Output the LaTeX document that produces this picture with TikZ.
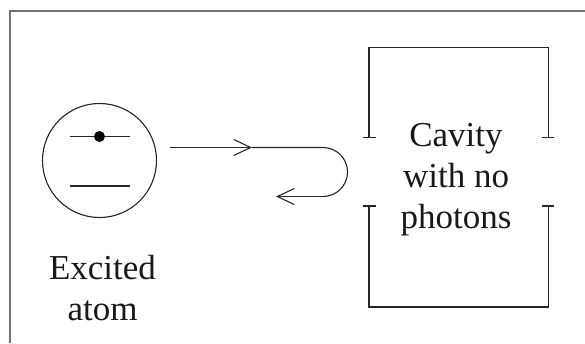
\documentclass[tikz,border=0pt]{standalone}
\usepackage{fontspec}
\setmainfont{Liberation Serif}
\usetikzlibrary{arrows.meta}
\begin{document}
\begin{tikzpicture}[x=1pt,y=-1pt,
  ln/.style={line width=1.1pt, black!85},
  vtip/.style={-{Straight Barb[length=17pt,width=16pt,line width=1.1pt]}},
  lbl/.style={font=\fontsize{35}{41}\selectfont, align=center, inner sep=0pt, text=black!90},
  frm/.style={line width=1.3pt, black!55}]
\useasboundingbox (0,0) rectangle (585,343);
% frame
\coordinate (f1) at (10,343);
\coordinate (f2) at (10,11);
\coordinate (f3) at (585,11);
\draw[frm] (f1) -- (f2) -- (f3);
% atom
\node[ln, draw, circle, minimum size=114pt, inner sep=0pt] (atom) at (99.5,160.5) {};
\coordinate (u1) at (70,136.5); \coordinate (u2) at (130,136.5);
\coordinate (l1) at (70,186); \coordinate (l2) at (130,186);
\draw[ln] (u1) -- (u2);
\draw[ln] (l1) -- (l2);
\fill[black] (99.5,136.5) circle (5.5pt) coordinate (dot);
\node[lbl, anchor=base] (exc) at (102.5,279) {Excited};
\node[lbl, anchor=base] (atm) at (102.5,320) {atom};
% arrow path
\coordinate (a0) at (169.5,147.5);
\coordinate (a1) at (252,147.5);
\coordinate (a2) at (323,147.5);
\coordinate (a3) at (323,196.5);
\coordinate (a4) at (276,196.5);
\draw[ln, vtip] (a0) -- (a1);
\draw[ln] (a1) -- (a2) arc[start angle=-90, end angle=90, radius=24.5];
\draw[ln, vtip] (a3) -- (a4);
% cavity
\coordinate (c1) at (369,137.5); \coordinate (c2) at (369,47.5);
\coordinate (c3) at (548.5,47.5); \coordinate (c4) at (548.5,137.5);
\draw[ln, line width=1.3pt] (c1) -- (c2) -- (c3) -- (c4);
\draw[ln] (363,137.5) -- (376,137.5);
\draw[ln] (542,137.5) -- (554,137.5);
\coordinate (d1) at (369,206); \coordinate (d2) at (369,307);
\coordinate (d3) at (548.5,307); \coordinate (d4) at (548.5,206);
\draw[ln, line width=1.3pt] (d1) -- (d2) -- (d3) -- (d4);
\draw[ln] (363,206) -- (376,206);
\draw[ln] (542,206) -- (554,206);
\node[lbl, anchor=base] (cav) at (456,146) {Cavity};
\node[lbl, anchor=base] (wth) at (456,187) {with no};
\node[lbl, anchor=base] (pht) at (456,228) {photons};
\end{tikzpicture}
\end{document}
